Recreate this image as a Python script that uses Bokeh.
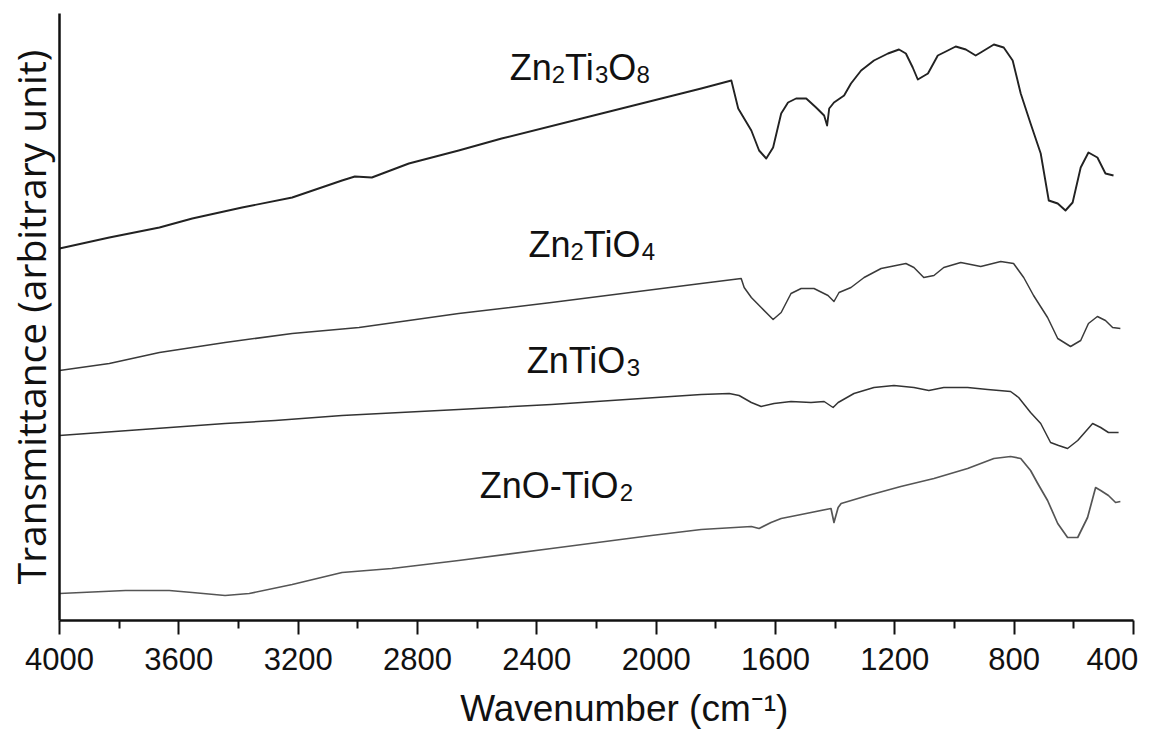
from bokeh.plotting import figure
from bokeh.models import Range1d, FixedTicker, ColumnDataSource
from bokeh.core.properties import value
from bokeh.embed import file_html
from bokeh.resources import INLINE

# ---- data (wavenumber in cm-1, transmittance in arbitrary units) ----
wn_zn2ti3o8 = [4000, 3833, 3665, 3555, 3388, 3220, 3053, 3010, 2953, 2829, 2662, 2518, 2183, 1849,
               1748, 1725, 1705, 1681, 1655, 1631, 1608, 1581, 1558, 1531, 1497, 1464, 1437, 1427,
               1420, 1404, 1370, 1347, 1313, 1270, 1223, 1186, 1163, 1140, 1123, 1089, 1056, 1029,
               996, 962, 929, 912, 868, 835, 805, 778, 745, 711, 684, 654, 628, 604, 577, 551,
               521, 494, 467]
t_zn2ti3o8 = [372, 383, 393, 402, 413, 423, 440, 444, 443, 457, 470, 482, 507, 532,
              540, 512, 502, 490, 470, 462, 473, 507, 518, 522, 522, 513, 505, 495,
              512, 518, 525, 537, 550, 560, 567, 571, 567, 553, 541, 547, 565, 569,
              574, 571, 565, 568, 576, 573, 560, 527, 497, 467, 420, 417, 410, 418, 453, 468,
              463, 447, 445]

wn_zn2tio4 = [4000, 3833, 3665, 3445, 3220, 2996, 2829, 2662, 2351, 1849, 1715, 1705, 1681, 1648,
              1608, 1581, 1548, 1514, 1471, 1424, 1404, 1387, 1347, 1303, 1246, 1163, 1136, 1103,
              1069, 1036, 979, 912, 845, 802, 768, 735, 688, 654, 611, 577, 551, 521, 494, 470, 444]
t_zn2tio4 = [250, 257, 268, 278, 287, 293, 300, 307, 318, 337, 342, 333, 323, 313,
             301, 308, 327, 332, 332, 325, 319, 328, 333, 343, 352, 357, 353, 343,
             345, 353, 358, 354, 359, 357, 343, 325, 303, 282, 274, 280, 297, 304, 300, 293, 292]

wn_zntio3 = [4000, 3722, 3445, 3277, 3053, 2662, 2351, 1849, 1755, 1722, 1681, 1648, 1605, 1548,
             1481, 1437, 1407, 1390, 1337, 1270, 1203, 1136, 1086, 1036, 956, 889, 812, 785, 745,
             711, 678, 651, 621, 587, 537, 510, 484, 450]
t_zntio3 = [185, 191, 197, 200, 205, 211, 216, 226, 227, 225, 218, 214, 217, 219,
            218, 219, 213, 218, 227, 233, 235, 233, 230, 233, 233, 231, 229, 223, 208,
            197, 178, 175, 172, 180, 197, 193, 188, 188]

wn_zno_tio2 = [4000, 3779, 3632, 3555, 3445, 3364, 3220, 3053, 2886, 2662, 2351, 2016, 1849, 1681,
               1655, 1615, 1581, 1514, 1414, 1404, 1390, 1380, 1290, 1180, 1069, 956, 868, 812,
               778, 745, 721, 688, 654, 621, 587, 554, 527, 510, 484, 460, 444]
t_zno_tio2 = [27, 30, 30, 28, 25, 27, 36, 48, 52, 60, 72, 85, 91, 94,
              92, 98, 102, 106, 112, 98, 113, 117, 125, 134, 142, 152, 162, 164,
              162, 150, 137, 120, 97, 83, 83, 103, 133, 130, 125, 118, 119]

series = [
    (wn_zn2ti3o8, t_zn2ti3o8, "#222222", 1.9),
    (wn_zn2tio4, t_zn2tio4, "#3a3a3a", 1.5),
    (wn_zntio3, t_zntio3, "#333333", 1.5),
    (wn_zno_tio2, t_zno_tio2, "#555555", 1.7),
]

# labels: segments (text, is_subscript)
label_segments = [
    [("Zn", 0), ("2", 1), ("Ti", 0), ("3", 1), ("O", 0), ("8", 1)],
    [("Zn", 0), ("2", 1), ("TiO", 0), ("4", 1)],
    [("ZnTiO", 0), ("3", 1)],
    [("ZnO-TiO", 0), ("2", 1)],
]
label_wn = [2491, 2428, 2434, 2591]
label_t = [553, 376, 260, 135]

major_ticks = [4000, 3600, 3200, 2800, 2400, 2000, 1600, 1200, 800, 400]
minor_ticks = [3800, 3400, 3000, 2600, 2200, 1800, 1400, 1000, 600]

# ---- figure ----
p = figure(width=1155, height=731, x_range=Range1d(4000, 400), y_range=Range1d(0, 607),
           output_backend="svg", toolbar_location=None,
           min_border_left=57, min_border_right=22, min_border_top=13, min_border_bottom=111)
p.outline_line_color = None
p.xgrid.visible = False
p.ygrid.visible = False
p.background_fill_color = "white"

for wn, t, col, lw in series:
    p.line(wn, t, line_color=col, line_width=lw, line_join="round")

# labels with subscripts
W = {'Z': 0.611, 'n': 0.556, 'T': 0.611, 'i': 0.222, 'O': 0.778, '-': 0.333}
for d in "0123456789":
    W[d] = 0.556
MAIN, SUB = 36, 24
main = dict(x=[], y=[], text=[], xo=[])
sub = dict(x=[], y=[], text=[], xo=[])
for segs, lx, ly in zip(label_segments, label_wn, label_t):
    off = 0.0
    for txt, is_sub in segs:
        tgt = sub if is_sub else main
        tgt["x"].append(lx)
        tgt["y"].append(ly)
        tgt["text"].append(txt)
        tgt["xo"].append(off)
        off += sum(W[c] for c in txt) * (SUB if is_sub else MAIN)

p.text(x="x", y="y", text="text", x_offset="xo", source=ColumnDataSource(main),
       text_font=value("Liberation Sans"), text_font_size="36px", text_color="#111111",
       text_align="left", text_baseline="alphabetic")
p.text(x="x", y="y", text="text", x_offset="xo", y_offset=7, source=ColumnDataSource(sub),
       text_font=value("Liberation Sans"), text_font_size="24px", text_color="#111111",
       text_align="left", text_baseline="alphabetic")

# x axis
xa = p.xaxis[0]
xa.ticker = FixedTicker(ticks=major_ticks, minor_ticks=minor_ticks)
xa.major_label_overrides = {400: "400\u2007"}
xa.axis_line_width = 2.5
xa.axis_line_color = "#111111"
xa.major_tick_line_width = 2
xa.minor_tick_line_width = 2
xa.major_tick_line_color = "#111111"
xa.minor_tick_line_color = "#111111"
xa.major_tick_in = 0
xa.major_tick_out = 14
xa.minor_tick_in = 0
xa.minor_tick_out = 8
xa.major_label_standoff = 7
xa.major_label_text_font = "Liberation Sans"
xa.major_label_text_font_size = "31px"
xa.major_label_text_color = "#111111"
xa.axis_label = "\u2003\u2002Wavenumber (cm\u207b\u00b9)"
xa.axis_label_text_font = "Liberation Sans"
xa.axis_label_text_font_size = "37px"
xa.axis_label_text_font_style = "normal"
xa.axis_label_text_color = "#111111"
xa.axis_label_standoff = 8

# y axis
ya = p.yaxis[0]
ya.ticker = FixedTicker(ticks=[])
ya.major_tick_line_color = None
ya.minor_tick_line_color = None
ya.major_label_text_font_size = "0px"
ya.axis_line_width = 2.5
ya.axis_line_color = "#111111"
ya.axis_label = "Transmittance (arbitrary unit)"
ya.axis_label_text_font = "Open Sans"
ya.axis_label_text_font_size = "39px"
ya.axis_label_text_font_style = "normal"
ya.axis_label_text_color = "#111111"
ya.axis_label_standoff = 3

open("out.html", "w").write(file_html(p, INLINE))
